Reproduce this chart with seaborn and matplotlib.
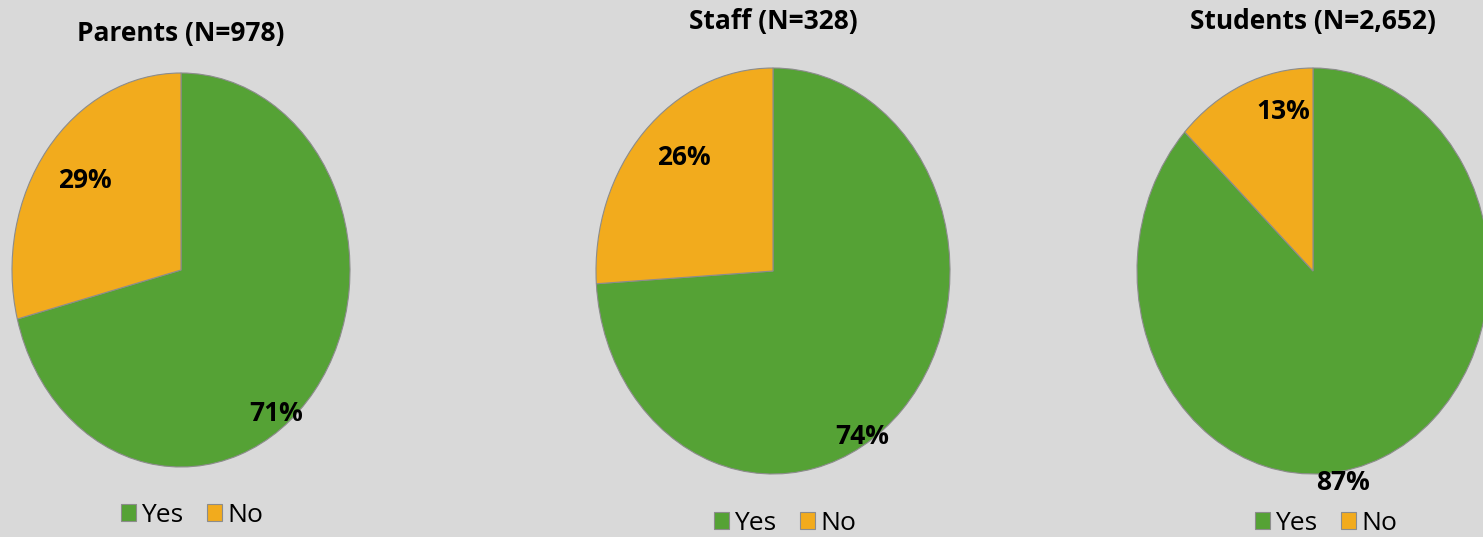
import matplotlib
matplotlib.use("Agg")
import matplotlib.pyplot as plt
import seaborn as sns

# ---- data ----
groups = ["Parents (N=978)", "Staff (N=328)", "Students (N=2,652)"]
answers = ["Yes", "No"]
yes_pct = [71, 74, 87]
no_pct = [29, 26, 13]

# ---- style ----
sns.set_theme(style="white")
plt.rcParams["font.family"] = ["Open Sans", "DejaVu Sans"]
bg = "#d9d9d9"
palette = sns.color_palette(["#55a235", "#f2ab1d"])

fig = plt.figure(figsize=(14.83, 5.37), dpi=100, facecolor=bg)

W, H = 1483.0, 537.0
# pixel boxes of each pie: (left, top, right, bottom)
boxes = [(12, 73, 350, 467), (596, 68, 950, 474), (1137, 68, 1489, 474)]
title_pos = [(181, 33), (773, 22), (1313, 22)]
legend_pos = [(192, 515), (785, 523), (1326, 523)]
# label anchors in pie-radius units (Yes, No)
label_xy = [
    [(0.562, -0.728), (-0.568, 0.452)],
    [(0.503, -0.813), (-0.503, 0.557)],
    [(0.170, -1.044), (-0.170, 0.788)],
]

for i, (grp, y, n) in enumerate(zip(groups, yes_pct, no_pct)):
    l, t, r, b = boxes[i]
    ax = fig.add_axes([l / W, 1 - b / H, (r - l) / W, (b - t) / H])
    ax.set_facecolor(bg)
    wedges, _ = ax.pie([y, n], colors=palette, startangle=90, counterclock=False,
                       radius=1.0,
                       wedgeprops=dict(edgecolor="#8c8c8c", linewidth=0.8))
    ax.set_aspect("auto")
    ax.set_xlim(-1, 1)
    ax.set_ylim(-1, 1)
    ax.axis("off")
    for val, (lx, ly) in zip([y, n], label_xy[i]):
        ax.text(lx, ly, f"{val}%", ha="center", va="center", fontsize=19,
                fontweight="bold", color="black", clip_on=False)
    tx, ty = title_pos[i]
    fig.text(tx / W, 1 - ty / H, grp, ha="center", va="center", fontsize=19,
             fontweight="bold", color="black")
    lx, ly = legend_pos[i]
    fig.legend(wedges, answers, loc="center", bbox_to_anchor=(lx / W, 1 - ly / H),
               ncol=2, frameon=False, fontsize=19, handlelength=0.57,
               handleheight=0.64, handletextpad=0.2, columnspacing=0.9,
               borderpad=0, borderaxespad=0, labelcolor="black")

fig.savefig("out.png", dpi=100, facecolor=bg)
